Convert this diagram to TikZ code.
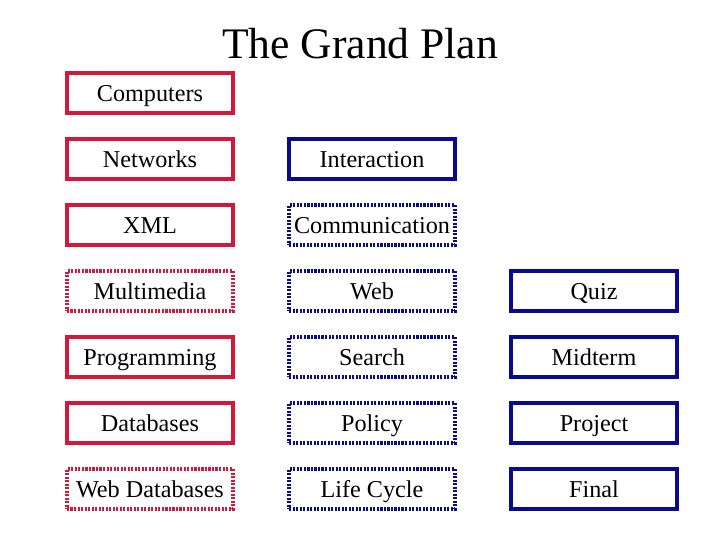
\documentclass[tikz,border=0pt]{standalone}
\usepackage{fontspec}
\setmainfont{Liberation Serif}
\definecolor{coreRed}{RGB}{210,25,60}
\definecolor{planBlue}{RGB}{10,10,140}
\tikzset{
  topic/.style={draw, line width=2.4pt, minimum width=4.15cm, minimum height=1.0cm,
    inner sep=0pt, text height=12pt, text depth=0pt, font=\fontsize{17.2}{20}\selectfont},
  solidred/.style={topic, draw=coreRed},
  dotred/.style={topic, draw=coreRed, dash pattern=on 1.5pt off 1pt},
  solidblue/.style={topic, draw=planBlue},
  dotblue/.style={topic, draw=planBlue, dash pattern=on 1.5pt off 1pt},
}
\newcommand{\topic}[5]{%
  \node[#4] (#1) at (#2,#3) {#5};
}
\begin{document}
\begin{tikzpicture}[x=0.025cm, y=-0.025cm]
    \useasboundingbox (0,0) rectangle (720,540);
    % Title
    \node[font=\fontsize{31}{36}\selectfont, anchor=base] (title) at (360,58) {The Grand Plan};
    % Topics (name, x, y, style, label)
    \topic{computers}{150}{93}{solidred}{Computers}
    \topic{networks}{150}{159}{solidred}{Networks}
    \topic{xml}{150}{225}{solidred}{XML}
    \topic{multimedia}{150}{291}{dotred}{Multimedia}
    \topic{programming}{150}{357}{solidred}{Programming}
    \topic{databases}{150}{423}{solidred}{Databases}
    \topic{webdb}{150}{489}{dotred}{Web Databases}
    % Second column
    \topic{interaction}{372}{159}{solidblue}{Interaction}
    \topic{communication}{372}{225}{dotblue}{Communication}
    \topic{web}{372}{291}{dotblue}{Web}
    \topic{search}{372}{357}{dotblue}{Search}
    \topic{policy}{372}{423}{dotblue}{Policy}
    \topic{lifecycle}{372}{489}{dotblue}{Life Cycle}
    % Assessment
    \topic{quiz}{594}{291}{solidblue}{Quiz}
    \topic{midterm}{594}{357}{solidblue}{Midterm}
    \topic{project}{594}{423}{solidblue}{Project}
    \topic{final}{594}{489}{solidblue}{Final}
\end{tikzpicture}
\end{document}
